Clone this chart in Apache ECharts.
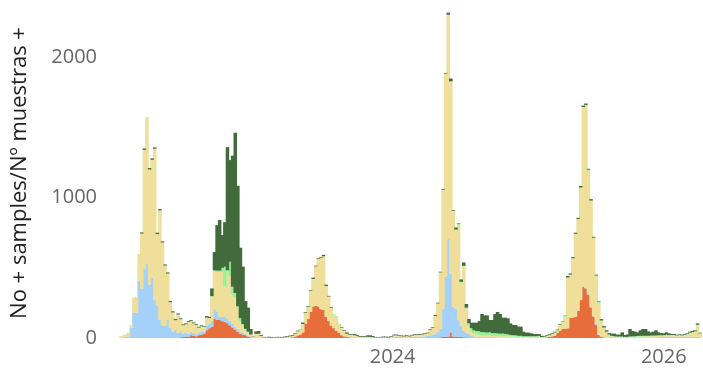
<!DOCTYPE html>
<html><head><meta charset="utf-8">
<script src="https://cdn.jsdelivr.net/npm/echarts@6/dist/echarts.min.js"></script>
<style>html,body{margin:0;padding:0;background:#fff}#c{width:703px;height:369px}</style>
</head><body><div id="c"></div>
<script>
// ---- data (weekly positive samples, stacked) ----
const FIRST_WEEK = '2021-12-30';
const X_MIN = '2021-12-24';
const X_MAX = '2026-04-12';
const X_LABEL_YEARS = [2024, 2026];
const Y_TICKS = [0, 1000, 2000];
const Y_MAX = 2350;
const Y_TITLE = 'No + samples/Nº muestras +';

const orange = [
0,0,0,0,0,0,0,0,0,0,
0,0,0,0,0,0,0,0,0,0,
0,0,0,5,8,10,10,20,15,12,
20,25,30,55,70,80,140,130,128,120,
115,105,90,75,60,45,30,25,20,10,
5,2,0,0,0,0,0,0,0,0,
0,0,0,0,0,2,5,10,18,25,
40,100,135,185,225,230,225,205,200,150,
120,85,70,50,38,20,12,8,5,3,
0,0,0,0,0,0,0,0,0,0,
0,0,0,0,0,0,0,0,0,0,
0,0,0,0,0,0,0,0,0,0,
0,0,3,5,8,10,10,40,10,10,
10,8,5,5,3,0,0,0,0,0,
0,0,0,0,0,0,0,0,0,0,
0,0,0,0,0,0,0,0,0,0,
0,0,0,2,5,8,12,17,38,52,
64,64,69,145,145,150,192,270,365,353,
306,218,152,92,21,9,3,0,0,0,
0,0,0,0,0,0,0,0,0,0,
0,0,0,0,0,0,0,0,0,0,
0,0,0,0,0,0,0,0,0,0,
0,0,0,0];

const lightBlue = [
3,5,8,12,71,180,180,410,350,490,
530,380,430,270,230,130,90,90,130,75,
45,60,35,45,25,30,20,25,20,15,
20,20,15,35,30,40,70,60,24,30,
40,30,30,25,20,20,15,10,8,5,
5,2,5,5,3,2,0,0,0,0,
0,0,0,0,0,0,0,0,0,0,
0,0,0,0,0,0,0,0,0,0,
0,5,0,0,0,0,0,0,0,0,
0,0,0,0,0,0,0,0,0,0,
0,0,0,0,0,8,10,8,6,5,
5,4,8,8,10,10,10,12,15,20,
25,30,40,60,200,425,697,417,210,200,
116,80,45,33,25,15,10,10,8,5,
5,5,5,5,5,3,3,3,3,3,
2,2,2,2,2,2,2,0,0,0,
0,0,0,0,0,0,0,0,0,0,
0,0,0,5,3,3,3,3,3,3,
5,5,3,10,3,3,2,2,2,0,
0,0,0,0,0,0,0,0,0,2,
3,3,3,3,5,5,5,8,8,8,
10,10,10,10,8,10,8,10,10,10,
8,8,8,5];

const khaki = [
11,12,15,26,21,107,114,188,394,850,
1043,820,839,1077,510,778,590,426,329,180,
137,67,132,84,58,58,85,77,67,67,
34,35,35,56,42,173,262,280,318,320,
210,337,321,206,210,146,71,55,32,25,
15,8,25,25,12,3,2,4,3,2,
4,4,2,5,9,10,11,18,29,28,
58,80,88,150,195,280,340,366,382,220,
175,125,96,102,57,51,40,22,18,20,
20,14,9,9,9,9,8,6,2,2,
4,5,5,3,7,11,9,9,7,6,
9,7,9,13,11,13,15,16,18,39,
46,124,200,400,845,1446,1590,1366,681,557,
680,307,459,170,65,30,20,15,15,12,
12,12,12,10,10,10,10,10,8,8,
8,8,8,6,6,6,6,8,8,8,
8,10,5,6,8,10,15,20,14,40,
48,87,360,300,418,587,651,797,1272,1296,
880,752,556,340,225,108,68,40,20,12,
10,8,8,8,5,6,8,8,8,8,
8,8,8,8,8,8,8,8,8,8,
10,8,8,8,8,8,8,10,15,25,
30,35,82,25];

const lightGreen = [
0,2,3,0,0,0,0,0,0,0,
0,0,0,0,0,0,0,0,0,0,
0,0,0,0,0,0,0,0,3,0,
0,5,0,0,0,5,10,10,10,30,
143,10,102,59,30,15,25,10,5,5,
0,0,0,0,0,0,0,0,0,0,
0,0,0,0,0,0,0,0,0,5,
2,0,0,0,0,0,0,0,0,0,
0,0,5,5,5,0,0,0,0,0,
0,0,0,0,0,0,0,0,0,0,
0,0,0,0,0,0,0,0,0,0,
0,0,0,0,0,0,0,0,0,0,
0,3,3,2,2,2,5,5,5,5,
5,5,5,8,12,25,25,25,25,25,
25,22,25,20,20,20,18,20,18,15,
12,10,10,8,8,5,5,5,5,5,
5,5,2,2,2,3,3,3,3,3,
5,8,2,2,2,2,2,2,5,8,
8,4,3,3,8,5,2,3,3,4,
3,3,3,3,3,3,4,4,5,5,
5,5,5,5,5,5,5,4,4,4,
4,3,3,3,3,3,3,3,3,3,
5,5,4,3];

const darkGreen = [
0,0,0,0,0,0,0,0,8,10,
0,10,10,10,10,10,8,8,8,8,
8,8,8,6,6,6,6,6,6,6,
6,5,5,10,8,55,130,324,360,233,
317,877,724,932,1141,858,502,408,198,171,
39,3,17,20,6,3,3,5,4,3,
4,4,4,5,5,5,5,5,5,2,
10,5,5,5,10,5,5,5,10,10,
5,5,0,0,0,5,5,10,5,5,
8,6,5,5,5,10,11,8,3,3,
4,5,5,5,5,5,5,5,5,5,
5,5,5,5,5,5,5,5,5,5,
5,7,5,5,5,5,15,20,5,15,
5,17,24,26,30,39,54,59,72,129,
119,122,86,93,136,152,140,112,116,114,
82,73,73,65,65,32,25,25,20,15,
15,13,8,5,5,5,5,5,5,5,
3,2,10,8,8,8,8,10,10,10,
6,10,7,6,4,10,10,10,10,15,
18,13,13,29,13,16,52,38,32,25,
39,48,48,31,22,27,37,20,15,13,
16,12,7,7,5,5,5,5,5,7,
7,7,10,5];

// ---- chart ----
const DAY = 86400000;
const t0 = Date.parse(FIRST_WEEK + 'T00:00:00Z');
const weeks = orange.map((_, i) => t0 + i * 7 * DAY);
const xMin = Date.parse(X_MIN + 'T00:00:00Z');
const xMax = Date.parse(X_MAX + 'T00:00:00Z');

const GRID = {left: 117, right: 0, top: 8, bottom: 31};
const gridW = 703 - GRID.left - GRID.right;
const barW = gridW * 7 * DAY / (xMax - xMin) + 0.9;

const FONT = '"Open Sans", "Noto Sans", sans-serif';
const layers = [
  {name: 'orange', data: orange, color: '#E76E3B'},
  {name: 'lightBlue', data: lightBlue, color: '#A3D1F9'},
  {name: 'khaki', data: khaki, color: '#EFDF9B'},
  {name: 'lightGreen', data: lightGreen, color: '#98F198'},
  {name: 'darkGreen', data: darkGreen, color: '#426B3B'}
];

const chart = echarts.init(document.getElementById('c'), null, {renderer: 'canvas'});
chart.setOption({
  useUTC: true,
  animation: false,
  backgroundColor: '#fff',
  grid: Object.assign({outerBoundsMode: 'none', containLabel: false}, GRID),
  xAxis: {
    type: 'time', min: xMin, max: xMax,
    axisLine: {show: false}, axisTick: {show: false}, splitLine: {show: false},
    axisLabel: {
      color: '#666', fontSize: 20, fontFamily: FONT, margin: 9,
      showMinLabel: false, showMaxLabel: false, hideOverlap: false,
      formatter: function (v) {
        const d = new Date(v);
        const y = d.getUTCFullYear();
        return (d.getUTCMonth() === 0 && d.getUTCDate() === 1 && X_LABEL_YEARS.indexOf(y) >= 0) ? String(y) : '';
      }
    }
  },
  yAxis: {
    type: 'value', min: Y_TICKS[0], max: Y_MAX, interval: Y_TICKS[1] - Y_TICKS[0],
    name: Y_TITLE, nameLocation: 'middle', nameGap: 86,
    nameTextStyle: {color: '#222', fontSize: 22, fontFamily: FONT},
    axisLine: {show: false}, axisTick: {show: false}, splitLine: {show: false},
    axisLabel: {color: '#666', fontSize: 20, fontFamily: FONT, margin: 20, showMaxLabel: false,
      formatter: function (v) { return Y_TICKS.indexOf(v) >= 0 ? String(v) : ''; }}
  },
  series: layers.map(l => ({
    type: 'bar', name: l.name, stack: 'all', barWidth: barW,
    itemStyle: {color: l.color},
    emphasis: {disabled: true},
    data: l.data.map((v, i) => [weeks[i], v])
  }))
});
</script>
</body></html>
